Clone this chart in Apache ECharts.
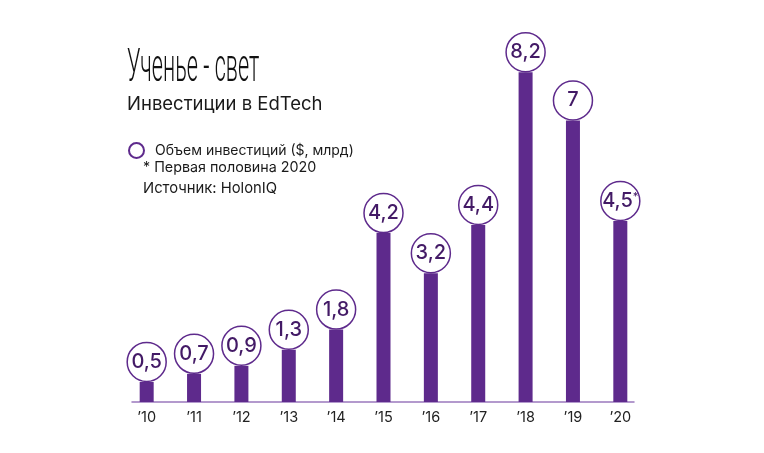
<!DOCTYPE html>
<html><head><meta charset="utf-8">
<script src="https://cdn.jsdelivr.net/npm/echarts@6/dist/echarts.min.js"></script>
<style>html,body{margin:0;padding:0;background:#fff}#c{width:764px;height:453px}</style>
</head><body><div id="c"></div>
<script>
const categories = ["’10","’11","’12","’13","’14","’15","’16","’17","’18","’19","’20"];
const values = [0.5, 0.7, 0.9, 1.3, 1.8, 4.2, 3.2, 4.4, 8.2, 7, 4.5];
const marks = ["", "", "", "", "", "", "", "", "", "", "*"];
const seriesName = "Объем инвестиций ($, млрд)";
const titleText = "Ученье - свет";
const subtitleText = "Инвестиции в EdTech";
const noteText = "* Первая половина 2020";
const sourceText = "Источник: HolonIQ";

const PURPLE = '#5e2a8c';
const DARK = '#431a66';
const FONT = 'Inter';

const chart = echarts.init(document.getElementById('c'));
chart.setOption({
  backgroundColor: '#fff',
  animation: false,
  title: [
    {text: subtitleText, left: 127, top: 95, padding: 0,
     textStyle: {fontFamily: FONT, fontSize: 18.5, fontWeight: 400, color: '#1a1a1a'}},
    {text: noteText, left: 143, top: 161, padding: 0,
     textStyle: {fontFamily: FONT, fontSize: 14.3, fontWeight: 400, color: '#1a1a1a'}},
    {text: sourceText, left: 143, top: 181, padding: 0,
     textStyle: {fontFamily: FONT, fontSize: 14.8, fontWeight: 400, color: '#1a1a1a'}}
  ],
  graphic: [{
    type: 'text', left: 127, top: 46,
    scaleX: 0.47,
    style: {text: titleText, font: '300 46px Roboto', fill: '#111'}
  }],
  legend: {
    left: 128, top: 142, padding: 0,
    itemWidth: 15, itemHeight: 15,
    icon: 'circle',
    itemStyle: {color: '#fff', borderColor: PURPLE, borderWidth: 2},
    textStyle: {fontFamily: FONT, fontSize: 14, color: '#1a1a1a', padding: [0,0,0,6]},
    data: [seriesName]
  },
  grid: [
    {left: 123, right: 120, top: 40, bottom: 51},
    {left: 132, right: 130, top: 40, bottom: 51}
  ],
  xAxis: [
    {type: 'category', data: categories, gridIndex: 0,
     axisLine: {show: false}, axisTick: {show: false},
     axisLabel: {fontFamily: FONT, fontSize: 14.5, color: '#222', margin: 8}},
    {type: 'value', gridIndex: 1, min: 0, max: 1,
     axisLine: {show: true, lineStyle: {color: '#9a78bd', width: 1.5}},
     axisTick: {show: false}, axisLabel: {show: false}, splitLine: {show: false}}
  ],
  yAxis: [
    {type: 'value', gridIndex: 0, min: 0, max: 9, show: false},
    {type: 'value', gridIndex: 1, min: 0, max: 9, show: false}
  ],
  series: [
    {type: 'bar', name: 'bars', data: values, barWidth: 14,
     itemStyle: {color: PURPLE}, z: 2, silent: true},
    {type: 'scatter', name: seriesName, data: values,
     symbol: 'circle', symbolSize: 39, symbolOffset: [0, -20],
     itemStyle: {color: '#fff', borderColor: PURPLE, borderWidth: 1.5, opacity: 1},
     z: 3,
     label: {
       show: true, position: 'inside',
       formatter: p => '{v|' + String(values[p.dataIndex]).replace('.', ',') + '}' + (marks[p.dataIndex] ? '{s|' + marks[p.dataIndex] + '}' : ''),
       rich: {
         v: {fontFamily: FONT, fontSize: 20, fontWeight: 500, color: DARK},
         s: {fontFamily: FONT, fontSize: 11, fontWeight: 500, color: DARK, verticalAlign: 'top', padding: [0,0,8,0]}
       }
     }}
  ]
});
</script></body></html>
